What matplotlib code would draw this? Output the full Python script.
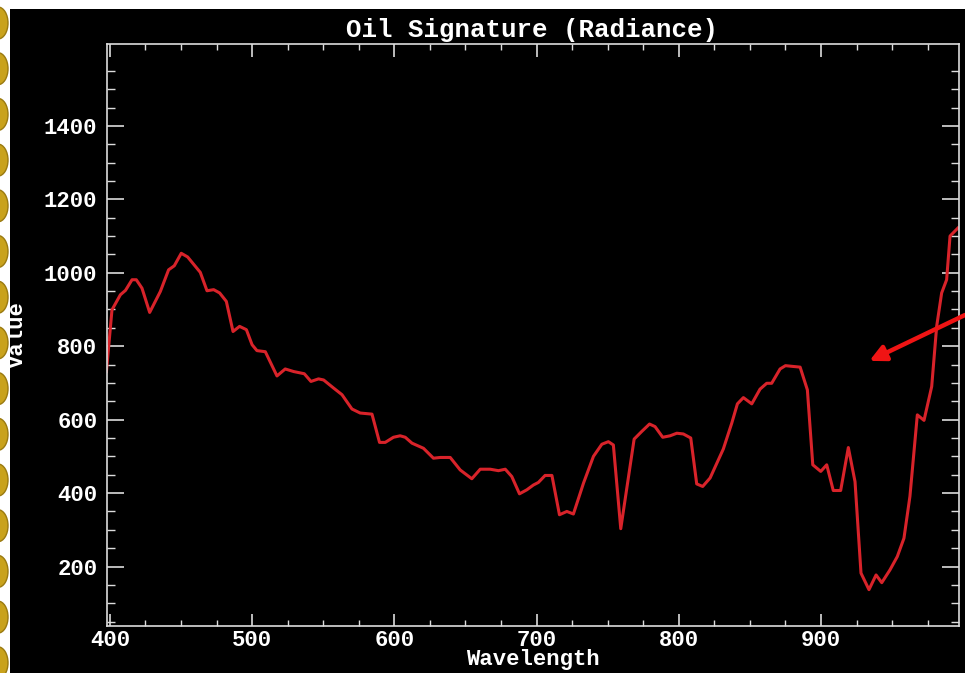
import numpy as np
import matplotlib
matplotlib.use("Agg")
import matplotlib.pyplot as plt
from matplotlib.patches import Ellipse, Rectangle

# spectrum
wavelength = [397.6, 401.5, 407.4, 411.0, 415.6, 418.6, 422.6, 428.0, 435.5, 441.3,
              445.3, 450.2, 454.7, 463.6, 468.3, 473.0, 477.2, 481.9, 486.6, 491.2,
              496.0, 500.0, 503.4, 509.3, 517.5, 523.3, 529.2, 536.7, 541.4, 546.7,
              550.3, 557.3, 563.2, 570.2, 576.0, 584.3, 589.6, 593.6, 599.4, 604.1,
              607.7, 612.4, 620.5, 627.5, 632.3, 639.3, 646.3, 654.5, 660.4, 667.4,
              673.2, 678.0, 682.6, 688.0, 693.2, 697.8, 701.3, 706.0, 710.8, 716.1,
              721.3, 725.9, 733.0, 740.0, 745.9, 750.5, 754.0, 759.2, 768.6, 774.0,
              779.4, 783.3, 788.7, 793.9, 798.6, 803.2, 808.4, 812.6, 816.8, 822.0,
              831.3, 837.2, 841.2, 845.4, 851.3, 857.1, 861.8, 865.3, 871.2, 875.0,
              880.0, 885.3, 890.4, 894.2, 899.8, 904.0, 908.6, 913.8, 919.2, 923.9,
              928.1, 933.7, 938.7, 942.7, 948.5, 953.6, 958.3, 962.5, 967.7, 972.4,
              977.8, 981.3, 984.8, 988.3, 990.7, 996.3]
radiance = [731, 899, 940, 952, 981, 981, 958, 892, 949, 1008,
            1019, 1053, 1043, 1001, 951, 954, 945, 922, 840, 854,
            845, 804, 788, 785, 719, 738, 731, 725, 704, 711,
            708, 686, 668, 629, 618, 615, 538, 538, 552, 556,
            552, 536, 522, 495, 497, 497, 463, 439, 465, 465,
            461, 465, 445, 398, 409, 422, 429, 448, 448, 341,
            350, 343, 427, 500, 533, 540, 531, 303, 547, 568,
            588, 581, 552, 556, 563, 561, 550, 425, 418, 441,
            520, 590, 643, 660, 643, 683, 699, 699, 738, 747,
            745, 743, 681, 477, 459, 477, 407, 407, 524, 431,
            182, 137, 177, 156, 191, 227, 277, 391, 613, 598,
            690, 854, 945, 981, 1100, 1122]

x_major = [400, 500, 600, 700, 800, 900]
y_major = [200, 400, 600, 800, 1000, 1200, 1400]

mono = ['Liberation Mono', 'DejaVu Sans Mono']
W, H = 965, 673

fig = plt.figure(figsize=(W / 100, H / 100), dpi=100, facecolor='black')

# slide background bits: white strips and gold beads on the left
fig.patches.append(Rectangle((0, 1 - 9 / H), 1, 9 / H, transform=fig.transFigure,
                             facecolor='white', edgecolor='none', zorder=0))
fig.patches.append(Rectangle((0, 0), 10 / W, 1, transform=fig.transFigure,
                             facecolor='white', edgecolor='none', zorder=0))
for k in range(15):
    cy = 23 + 45.7 * k
    fig.patches.append(Ellipse((-2 / W, 1 - cy / H), 20 / W, 32 / H,
                               transform=fig.transFigure, facecolor='#c9a21c',
                               edgecolor='#9a7a10', lw=1, zorder=1))

ax = fig.add_axes([107 / W, 47 / H, (959 - 107) / W, (626 - 44) / H])
ax.set_facecolor('black')
ax.plot(wavelength, radiance, color='#d8232a', lw=2.2, solid_joinstyle='round')

ax.set_xlim(398, 997)
ax.set_ylim(38, 1623)

ax.set_xticks(x_major)
ax.set_xticks(np.arange(425, 1000, 25), minor=True)
ax.set_yticks(y_major)
ax.set_yticks([v for v in range(50, 1600, 50) if v not in y_major], minor=True)

for s in ax.spines.values():
    s.set_color('#dddddd')
    s.set_linewidth(1.2)

ax.tick_params(axis='x', which='major', direction='in', length=9, width=1.2,
               color='#dddddd', top=True, pad=3)
ax.tick_params(axis='x', which='minor', direction='in', length=4.5, width=1.0,
               color='#dddddd', top=True)
ax.tick_params(axis='y', which='major', direction='in', length=12.5, width=1.2,
               color='#dddddd', right=True, pad=7)
ax.tick_params(axis='y', which='minor', direction='in', length=6, width=1.0,
               color='#dddddd', right=True)

for lab in ax.get_xticklabels() + ax.get_yticklabels():
    lab.set_family(mono)
    lab.set_fontweight('bold')
    lab.set_fontsize(16)
    lab.set_color('white')

ax.set_xlabel('Wavelength', family=mono, fontweight='bold', fontsize=16,
              color='white', va='center')
ax.xaxis.set_label_coords(0.5, -0.058)
ax.set_ylabel('Value', family=mono, fontweight='bold', fontsize=16,
              color='white', va='center')
ax.yaxis.set_label_coords(-0.105, 0.5)

fig.text(532 / W, 1 - 30 / H, 'Oil Signature (Radiance)', family=mono,
         fontweight='bold', fontsize=18.5, color='white', ha='center', va='center')

# pointer arrow coming in from the right edge
ax.annotate('', xy=(934, 760), xytext=(1.0, 1 - 315 / H),
            textcoords='figure fraction',
            arrowprops=dict(arrowstyle='-|>', color='#f01414', lw=3.2,
                            mutation_scale=24, shrinkA=0, shrinkB=0),
            annotation_clip=False)

fig.savefig('out.png', dpi=100, facecolor='black')
